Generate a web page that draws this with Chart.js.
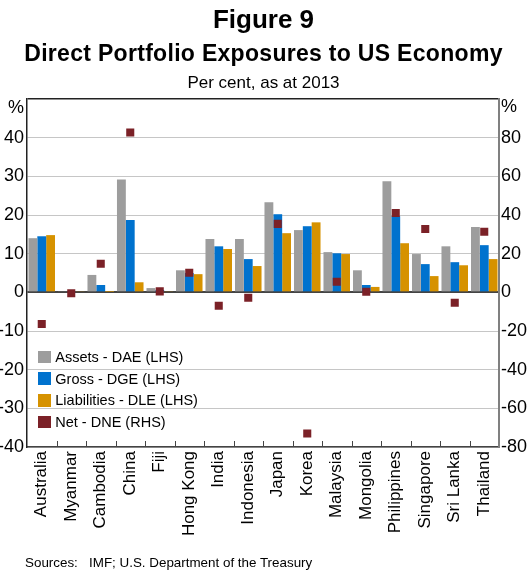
<!DOCTYPE html>
<html>
<head>
<meta charset="utf-8">
<title>Figure 9</title>
<script src="https://cdn.jsdelivr.net/npm/chart.js@4.4.1/dist/chart.umd.min.js"></script>
<style>
    body { margin: 0; background: #fff; font-family: 'Liberation Sans', Arial, sans-serif; }
    #wrap { position: relative; width: 527px; height: 572px; }
    #chart { position: absolute; left: 0; top: 0; }
    .txt { position: absolute; line-height: 1; color: #000; white-space: nowrap; }
    .center { left: 0; width: 527px; text-align: center; }
    #legend { position: absolute; left: 38px; top: 346px; }
    .item { display: flex; align-items: center; height: 21.7px; font-size: 14.5px; }
    .box { width: 12.6px; height: 12.6px; margin-right: 4.7px; }
</style>
</head>
<body>
<div id="wrap">
    <canvas id="chart" width="527" height="572"></canvas>
    <div class="txt center" style="top:6px;font-size:26px;font-weight:bold;">Figure 9</div>
    <div class="txt center" style="top:42px;font-size:23px;font-weight:bold;letter-spacing:0.3px;">Direct Portfolio Exposures to US Economy</div>
    <div class="txt center" style="top:74px;font-size:17px;">Per cent, as at 2013</div>
    <div class="txt" style="left:8px;top:98px;font-size:18px;">%</div>
    <div class="txt" style="left:501px;top:97px;font-size:18px;">%</div>
    <div id="legend"></div>
    <div class="txt" style="left:25px;top:556px;font-size:13.4px;">Sources:&nbsp;&nbsp; IMF; U.S. Department of the Treasury</div>
</div>
<script>
// Data
const categories = ['Australia', 'Myanmar', 'Cambodia', 'China', 'Fiji', 'Hong Kong', 'India', 'Indonesia',
    'Japan', 'Korea', 'Malaysia', 'Mongolia', 'Philippines', 'Singapore', 'Sri Lanka', 'Thailand'];
const assets = [14.0, 0.3, 4.5, 29.2, 1.1, 5.7, 13.8, 13.8, 23.3, 16.1, 10.4, 5.7, 28.7, 9.9, 11.9, 16.9];
const gross = [14.5, 0.2, 1.9, 18.7, 0.6, 5.0, 11.9, 8.6, 20.2, 17.1, 10.1, 1.9, 19.7, 7.3, 7.8, 12.2];
const liabilities = [14.8, 0.3, 0.1, 2.6, 0.3, 4.7, 11.2, 6.8, 15.3, 18.1, 9.9, 1.4, 12.7, 4.2, 7.0, 8.6];
const net = [-16.4, -0.5, 14.8, 82.7, 0.5, 10.1, -6.9, -2.8, 35.4, -73.0, 5.5, 0.3, 41.0, 32.8, -5.4, 31.3];

const leftTicks = { min: -40, max: 50, step: 10 };
const rightTicks = { min: -80, max: 100, step: 20 };

const COLORS = { assets: '#9d9d9d', gross: '#0072ce', liabilities: '#d69200', net: '#7b2127' };
const FONT = "'Liberation Sans', Arial, sans-serif";

// Small inward tick marks between categories on the bottom axis
const innerTicks = {
    id: 'innerTicks',
    afterDraw(chart) {
        const { ctx, chartArea } = chart;
        const x = chart.scales.x;
        ctx.save();
        ctx.strokeStyle = '#444';
        ctx.lineWidth = 1;
        for (let i = 1; i < categories.length; i++) {
            const px = Math.round(x.getPixelForValue(i - 0.5)) + 0.5;
            ctx.beginPath();
            ctx.moveTo(px, chartArea.bottom);
            ctx.lineTo(px, chartArea.bottom - 6);
            ctx.stroke();
        }
        ctx.restore();
    }
};

const datasets = [
    { type: 'line', label: 'Net - DNE (RHS)', data: net, yAxisID: 'y2', order: -1,
      showLine: false, pointStyle: 'rect', pointRadius: 5.7, pointHoverRadius: 5.7,
      backgroundColor: COLORS.net, borderColor: COLORS.net, borderWidth: 0 },
    { label: 'Assets - DAE (LHS)', data: assets, backgroundColor: COLORS.assets, yAxisID: 'y' },
    { label: 'Gross - DGE (LHS)', data: gross, backgroundColor: COLORS.gross, yAxisID: 'y' },
    { label: 'Liabilities - DLE (LHS)', data: liabilities, backgroundColor: COLORS.liabilities, yAxisID: 'y' }
];

new Chart(document.getElementById('chart'), {
    type: 'bar',
    data: { labels: categories, datasets: datasets },
    options: {
        responsive: false,
        animation: false,
        layout: { padding: { top: 99, left: 0, right: 0, bottom: 0 } },
        datasets: { bar: { categoryPercentage: 0.9, barPercentage: 1.0 } },
        plugins: { legend: { display: false }, tooltip: { enabled: false } },
        scales: {
            x: {
                grid: { display: false, drawTicks: false },
                border: { color: '#444', width: 1.5 },
                ticks: {
                    autoSkip: false, minRotation: 90, maxRotation: 90, padding: 4,
                    color: '#000', font: { family: FONT, size: 17 }
                },
                afterFit: (s) => { s.height = 125; }
            },
            y: {
                position: 'left',
                min: leftTicks.min, max: leftTicks.max,
                grid: {
                    drawTicks: false,
                    color: (c) => c.tick.value === 0 ? '#444' : (c.tick.value === leftTicks.max ? '#222' : '#c6c6c6'),
                    lineWidth: (c) => c.tick.value === 0 ? 2 : (c.tick.value === leftTicks.max ? 1.5 : 1)
                },
                border: { color: '#222', width: 1.5 },
                ticks: {
                    stepSize: leftTicks.step, padding: 3, color: '#000',
                    font: { family: FONT, size: 18 },
                    callback: (v) => v === leftTicks.max ? '' : v
                },
                afterFit: (s) => { s.width = 27; }
            },
            y2: {
                position: 'right',
                min: rightTicks.min, max: rightTicks.max,
                grid: { drawOnChartArea: false, drawTicks: false },
                border: { color: '#808080', width: 2 },
                ticks: {
                    stepSize: rightTicks.step, padding: 2, color: '#000',
                    font: { family: FONT, size: 18 },
                    callback: (v) => v === rightTicks.max ? '' : v
                },
                afterFit: (s) => { s.width = 28; }
            }
        }
    },
    plugins: [innerTicks]
});

// Legend (bars first, then net)
const legendOrder = [datasets[1], datasets[2], datasets[3], datasets[0]];
document.getElementById('legend').innerHTML = legendOrder.map(d =>
    `<div class="item"><span class="box" style="background:${d.backgroundColor}"></span>${d.label}</div>`
).join('');
</script>
</body>
</html>
